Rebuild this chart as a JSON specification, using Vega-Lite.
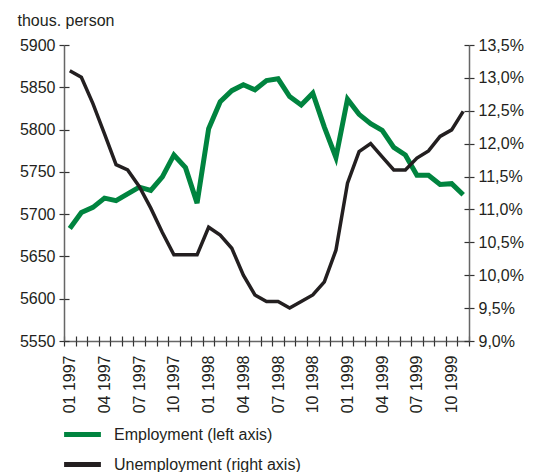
{
  "$schema": "https://vega.github.io/schema/vega-lite/v6.json",
  "width": 405,
  "height": 296,
  "autosize": {"type": "none"},
  "padding": {"left": 64, "top": 45, "right": 69, "bottom": 131},
  "background": "white",
  "data": {
    "values": [
      {"i": 0, "emp": 5683, "unemp": 13.11},
      {"i": 1, "emp": 5702, "unemp": 13.01},
      {"i": 2, "emp": 5708, "unemp": 12.61},
      {"i": 3, "emp": 5719, "unemp": 12.15},
      {"i": 4, "emp": 5716, "unemp": 11.68},
      {"i": 5, "emp": 5724, "unemp": 11.60},
      {"i": 6, "emp": 5732, "unemp": 11.35},
      {"i": 7, "emp": 5728, "unemp": 11.02},
      {"i": 8, "emp": 5744, "unemp": 10.65},
      {"i": 9, "emp": 5770, "unemp": 10.31},
      {"i": 10, "emp": 5755, "unemp": 10.31},
      {"i": 11, "emp": 5713, "unemp": 10.31},
      {"i": 12, "emp": 5801, "unemp": 10.73},
      {"i": 13, "emp": 5833, "unemp": 10.61},
      {"i": 14, "emp": 5846, "unemp": 10.41},
      {"i": 15, "emp": 5853, "unemp": 10.00},
      {"i": 16, "emp": 5847, "unemp": 9.70},
      {"i": 17, "emp": 5858, "unemp": 9.60},
      {"i": 18, "emp": 5860, "unemp": 9.60},
      {"i": 19, "emp": 5839, "unemp": 9.50},
      {"i": 20, "emp": 5829, "unemp": 9.60},
      {"i": 21, "emp": 5843, "unemp": 9.70},
      {"i": 22, "emp": 5803, "unemp": 9.90},
      {"i": 23, "emp": 5767, "unemp": 10.38},
      {"i": 24, "emp": 5836, "unemp": 11.40},
      {"i": 25, "emp": 5818, "unemp": 11.88},
      {"i": 26, "emp": 5807, "unemp": 12.00},
      {"i": 27, "emp": 5799, "unemp": 11.80},
      {"i": 28, "emp": 5779, "unemp": 11.60},
      {"i": 29, "emp": 5770, "unemp": 11.60},
      {"i": 30, "emp": 5746, "unemp": 11.78},
      {"i": 31, "emp": 5746, "unemp": 11.89},
      {"i": 32, "emp": 5735, "unemp": 12.11},
      {"i": 33, "emp": 5736, "unemp": 12.21},
      {"i": 34, "emp": 5723, "unemp": 12.49}
    ]
  },
  "layer": [
    {
      "mark": {"type": "line", "strokeWidth": 5, "strokeJoin": "miter", "strokeCap": "butt"},
      "encoding": {
        "x": {
          "field": "i", "type": "quantitative",
          "scale": {"domain": [-0.5, 34.5], "nice": false, "zero": false},
          "axis": {
            "orient": "bottom", "title": null, "grid": false,
            "values": [0, 3, 6, 9, 12, 15, 18, 21, 24, 27, 30, 33],
            "labelExpr": "(datum.value % 12 + 1 < 10 ? '0' : '') + (datum.value % 12 + 1) + ' ' + (1997 + floor(datum.value / 12))",
            "labelAngle": -90, "labelAlign": "right", "labelBaseline": "middle",
            "ticks": false, "domain": true, "domainColor": "#666666", "domainWidth": 1.5,
            "labelPadding": 14, "labelFontSize": 16, "labelColor": "#231f20", "labelFont": "Liberation Sans"
          }
        },
        "y": {
          "field": "emp", "type": "quantitative",
          "scale": {"domain": [5550, 5900], "nice": false, "zero": false},
          "axis": {
            "orient": "left", "grid": false, "format": "d",
            "values": [5550, 5600, 5650, 5700, 5750, 5800, 5850, 5900],
            "title": "thous. person", "titleAngle": 0, "titleX": -47, "titleY": -20,
            "titleAlign": "left", "titleBaseline": "alphabetic", "titleFontWeight": "normal",
            "titleFontSize": 16, "titleColor": "#231f20", "titleFont": "Liberation Sans",
            "tickSize": 5, "tickColor": "#333333", "tickWidth": 1.2,
            "domainColor": "#666666", "domainWidth": 1.5,
            "labelPadding": 4, "labelFontSize": 16, "labelColor": "#231f20", "labelFont": "Liberation Sans"
          }
        },
        "color": {
          "datum": "Employment (left axis)",
          "scale": {"domain": ["Employment (left axis)", "Unemployment (right axis)"], "range": ["#00843f", "#231f20"]},
          "legend": {
            "orient": "none", "legendX": 8, "legendY": 379, "title": null,
            "direction": "vertical",
            "symbolType": "M-2.3,0L2.3,0", "symbolSize": 256, "symbolStrokeWidth": 5,
            "labelFontSize": 16, "labelColor": "#231f20", "labelFont": "Liberation Sans",
            "labelOffset": 21, "labelLimit": 400, "rowPadding": 9, "padding": 0
          }
        }
      }
    },
    {
      "mark": {"type": "line", "strokeWidth": 3.5, "strokeJoin": "miter", "strokeCap": "butt"},
      "encoding": {
        "x": {
          "field": "i", "type": "quantitative",
          "axis": {
            "orient": "bottom", "title": null, "grid": false, "labels": false, "domain": false,
            "values": [-0.5, 0.5, 1.5, 2.5, 3.5, 4.5, 5.5, 6.5, 7.5, 8.5, 9.5, 10.5, 11.5, 12.5, 13.5, 14.5, 15.5, 16.5, 17.5, 18.5, 19.5, 20.5, 21.5, 22.5, 23.5, 24.5, 25.5, 26.5, 27.5, 28.5, 29.5, 30.5, 31.5, 32.5, 33.5, 34.5],
            "tickSize": 5, "tickColor": "#333333", "tickWidth": 1.2
          }
        },
        "y": {
          "field": "unemp", "type": "quantitative",
          "scale": {"domain": [9, 13.5], "nice": false, "zero": false},
          "axis": {
            "orient": "right", "title": null, "grid": false,
            "values": [9, 9.5, 10, 10.5, 11, 11.5, 12, 12.5, 13, 13.5],
            "labelExpr": "replace(format(datum.value, '.1f'), '.', ',') + '%'",
            "tickSize": 5, "tickColor": "#333333", "tickWidth": 1.2,
            "domainColor": "#666666", "domainWidth": 1.5,
            "labelPadding": 4, "labelFontSize": 16, "labelColor": "#231f20", "labelFont": "Liberation Sans"
          }
        },
        "color": {"datum": "Unemployment (right axis)"}
      }
    },
    {
      "mark": {"type": "line", "opacity": 0},
      "encoding": {
        "x": {
          "field": "i", "type": "quantitative",
          "axis": {
            "orient": "bottom", "title": null, "grid": false, "labels": false, "domain": false,
            "values": [-0.5, 0.5, 1.5, 2.5, 3.5, 4.5, 5.5, 6.5, 7.5, 8.5, 9.5, 10.5, 11.5, 12.5, 13.5, 14.5, 15.5, 16.5, 17.5, 18.5, 19.5, 20.5, 21.5, 22.5, 23.5, 24.5, 25.5, 26.5, 27.5, 28.5, 29.5, 30.5, 31.5, 32.5, 33.5, 34.5],
            "tickSize": -5, "tickColor": "#333333", "tickWidth": 1.2
          }
        },
        "y": {
          "field": "emp", "type": "quantitative",
          "scale": {"domain": [5550, 5900], "nice": false, "zero": false},
          "axis": {
            "orient": "left", "title": null, "grid": false, "labels": false, "domain": false,
            "values": [5550, 5600, 5650, 5700, 5750, 5800, 5850, 5900],
            "tickSize": -5, "tickColor": "#333333", "tickWidth": 1.2
          }
        }
      }
    },
    {
      "mark": {"type": "line", "opacity": 0},
      "encoding": {
        "x": {"field": "i", "type": "quantitative", "axis": null},
        "y": {
          "field": "unemp", "type": "quantitative",
          "scale": {"domain": [9, 13.5], "nice": false, "zero": false},
          "axis": {
            "orient": "right", "title": null, "grid": false, "labels": false, "domain": false,
            "values": [9, 9.5, 10, 10.5, 11, 11.5, 12, 12.5, 13, 13.5],
            "tickSize": -5, "tickColor": "#333333", "tickWidth": 1.2
          }
        }
      }
    }
  ],
  "resolve": {
    "scale": {"y": "independent"},
    "axis": {"x": "independent", "y": "independent"}
  },
  "config": {
    "view": {"stroke": null},
    "font": "Liberation Sans"
  }
}
